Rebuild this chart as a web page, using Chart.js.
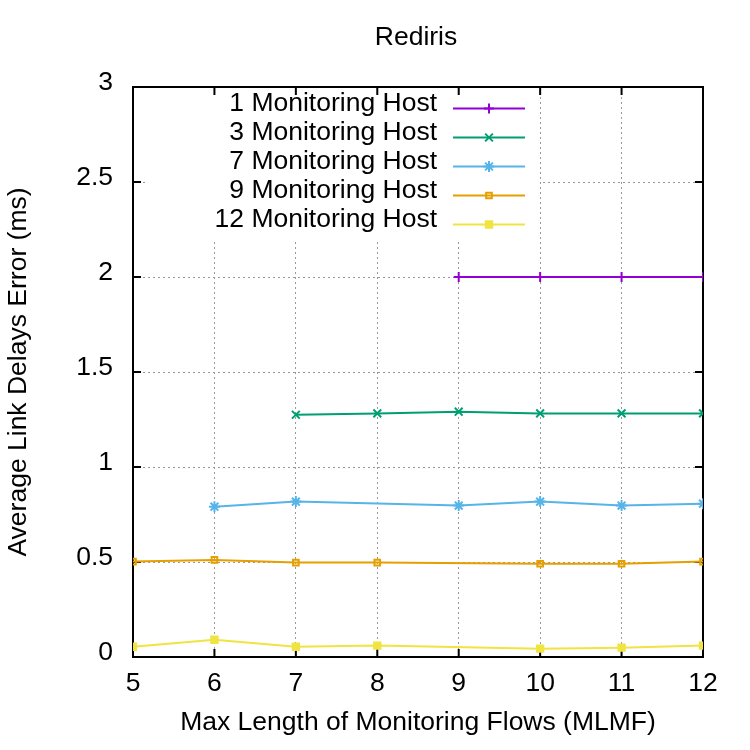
<!DOCTYPE html>
<html>
<head>
<meta charset="utf-8">
<script src="https://cdn.jsdelivr.net/npm/chart.js@4.4.1/dist/chart.umd.min.js"></script>
<style>
  html, body { margin: 0; padding: 0; background: #fff; }
  #wrap { width: 750px; height: 750px; }
</style>
</head>
<body>
<div id="wrap"><canvas id="delayChart"></canvas></div>
<script>
// values
const xTicks = [5, 6, 7, 8, 9, 10, 11, 12];
const xTickLabels = ['5', '6', '7', '8', '9', '10', '11', '12'];
const yTicks = [0, 0.5, 1, 1.5, 2, 2.5, 3];
const yTickLabels = ['0', '0.5', '1', '1.5', '2', '2.5', '3'];

const seriesNames = ['1 Monitoring Host', '3 Monitoring Host', '7 Monitoring Host', '9 Monitoring Host', '12 Monitoring Host'];

const host1X = [9, 10, 11, 12];
const host1Y = [2.0, 2.0, 2.0, 2.0];
const host3X = [7, 8, 9, 10, 11, 12];
const host3Y = [1.275, 1.282, 1.291, 1.282, 1.282, 1.282];
const host7X = [6, 7, 9, 10, 11, 12];
const host7Y = [0.791, 0.818, 0.797, 0.818, 0.797, 0.807];
const host9X = [5, 6, 7, 8, 10, 11, 12];
const host9Y = [0.502, 0.511, 0.497, 0.497, 0.491, 0.491, 0.502];
const host12X = [5, 6, 7, 8, 10, 11, 12];
const host12Y = [0.054, 0.091, 0.054, 0.060, 0.044, 0.049, 0.060];

const FONT = '"Liberation Sans", Arial, sans-serif';
const FS = 26.5;

function pts(xs, ys) {
    return xs.map((x, i) => ({ x: x, y: ys[i] }));
}

function series(label, xs, ys, color, style, radius, fill, bw) {
    return {
        label: label,
        data: pts(xs, ys),
        borderColor: color,
        borderWidth: 2,
        pointStyle: style,
        pointRadius: radius,
        pointHoverRadius: radius,
        pointBorderColor: color,
        pointBackgroundColor: fill ? color : 'rgba(0,0,0,0)',
        pointBorderWidth: bw,
        tension: 0,
        fill: false
    };
}

// gnuplot style key: text right aligned, sample line on the right, white box behind
const keyPlugin = {
    id: 'gnuKey',
    beforeDatasetsDraw(chart) {
        const ctx = chart.ctx;
        const a = chart.chartArea;
        ctx.save();
        ctx.fillStyle = '#fff';
        ctx.fillRect(145, a.top + 2, 395, 150);

        // frame
        ctx.strokeStyle = '#000';
        ctx.lineWidth = 2;
        ctx.strokeRect(a.left, a.top, a.right - a.left, a.bottom - a.top);

        // inward ticks, mirrored
        const xs = chart.scales.x, ys = chart.scales.y;
        ctx.beginPath();
        xTicks.forEach(v => {
            const p = xs.getPixelForValue(v);
            ctx.moveTo(p, a.bottom); ctx.lineTo(p, a.bottom - 8);
            ctx.moveTo(p, a.top); ctx.lineTo(p, a.top + 8);
        });
        yTicks.forEach(v => {
            const p = ys.getPixelForValue(v);
            ctx.moveTo(a.left, p); ctx.lineTo(a.left + 8, p);
            ctx.moveTo(a.right, p); ctx.lineTo(a.right - 8, p);
        });
        ctx.stroke();
        ctx.restore();
    },
    afterDraw(chart) {
        const ctx = chart.ctx;
        ctx.save();
        // title
        ctx.fillStyle = '#000';
        ctx.font = FS + 'px ' + FONT;
        ctx.textAlign = 'center';
        ctx.textBaseline = 'middle';
        ctx.fillText('Rediris', 416, 38);

        chart.data.datasets.forEach((ds, i) => {
            const y = 108.5 + i * 29;
            ctx.fillStyle = '#000';
            ctx.textAlign = 'right';
            ctx.textBaseline = 'middle';
            ctx.fillText(ds.label, 437, y - 5);
            ctx.strokeStyle = ds.borderColor;
            ctx.lineWidth = 2;
            ctx.beginPath();
            ctx.moveTo(453, y);
            ctx.lineTo(525, y);
            ctx.stroke();
            ctx.fillStyle = ds.pointBackgroundColor;
            ctx.lineWidth = ds.pointBorderWidth;
            Chart.helpers.drawPoint(ctx, {
                pointStyle: ds.pointStyle,
                radius: ds.pointRadius,
                rotation: 0,
                borderWidth: ds.pointBorderWidth
            }, 489, y);
        });
        ctx.restore();
    }
};

const gridOpts = { color: '#999999', lineWidth: 1, drawTicks: false };

new Chart(document.getElementById('delayChart'), {
    type: 'line',
    data: {
        datasets: [
            series(seriesNames[0], host1X, host1Y, '#9400d3', 'cross', 5, false, 2),
            series(seriesNames[1], host3X, host3Y, '#009e73', 'crossRot', 5.5, false, 2),
            series(seriesNames[2], host7X, host7Y, '#56b4e9', 'star', 5.5, false, 2),
            series(seriesNames[3], host9X, host9Y, '#e69f00', 'rect', 4, false, 2),
            series(seriesNames[4], host12X, host12Y, '#f0e442', 'rect', 4.5, true, 2)
        ]
    },
    options: {
        responsive: true,
        maintainAspectRatio: false,
        animation: false,
        events: [],
        layout: { padding: { left: 0, top: 87, right: 47, bottom: 0 } },
        plugins: {
            legend: { display: false },
            tooltip: { enabled: false }
        },
        scales: {
            x: {
                type: 'linear',
                min: 5,
                max: 12,
                afterBuildTicks: s => { s.ticks = xTicks.map(v => ({ value: v })); },
                afterFit: s => { s.height = 93; },
                grid: gridOpts,
                border: { display: false, dash: [2, 3] },
                ticks: {
                    color: '#000',
                    font: { family: FONT, size: FS },
                    padding: 11,
                    maxRotation: 0,
                    callback: (v, i) => xTickLabels[i]
                },
                title: {
                    display: true,
                    text: 'Max Length of Monitoring Flows (MLMF)',
                    color: '#000',
                    font: { family: FONT, size: FS },
                    padding: { top: 0, bottom: 11 }
                }
            },
            y: {
                min: 0,
                max: 3,
                afterBuildTicks: s => { s.ticks = yTicks.map(v => ({ value: v })); },
                afterFit: s => { s.width = 133; },
                grid: gridOpts,
                border: { display: false, dash: [2, 3] },
                ticks: {
                    color: '#000',
                    font: { family: FONT, size: FS },
                    padding: 20,
                    labelOffset: -4,
                    callback: (v, i) => yTickLabels[i]
                },
                title: {
                    display: true,
                    text: 'Average Link Delays Error (ms)',
                    color: '#000',
                    font: { family: FONT, size: FS },
                    padding: { top: 3, bottom: 0 }
                }
            }
        }
    },
    plugins: [keyPlugin]
});
</script>
</body>
</html>
